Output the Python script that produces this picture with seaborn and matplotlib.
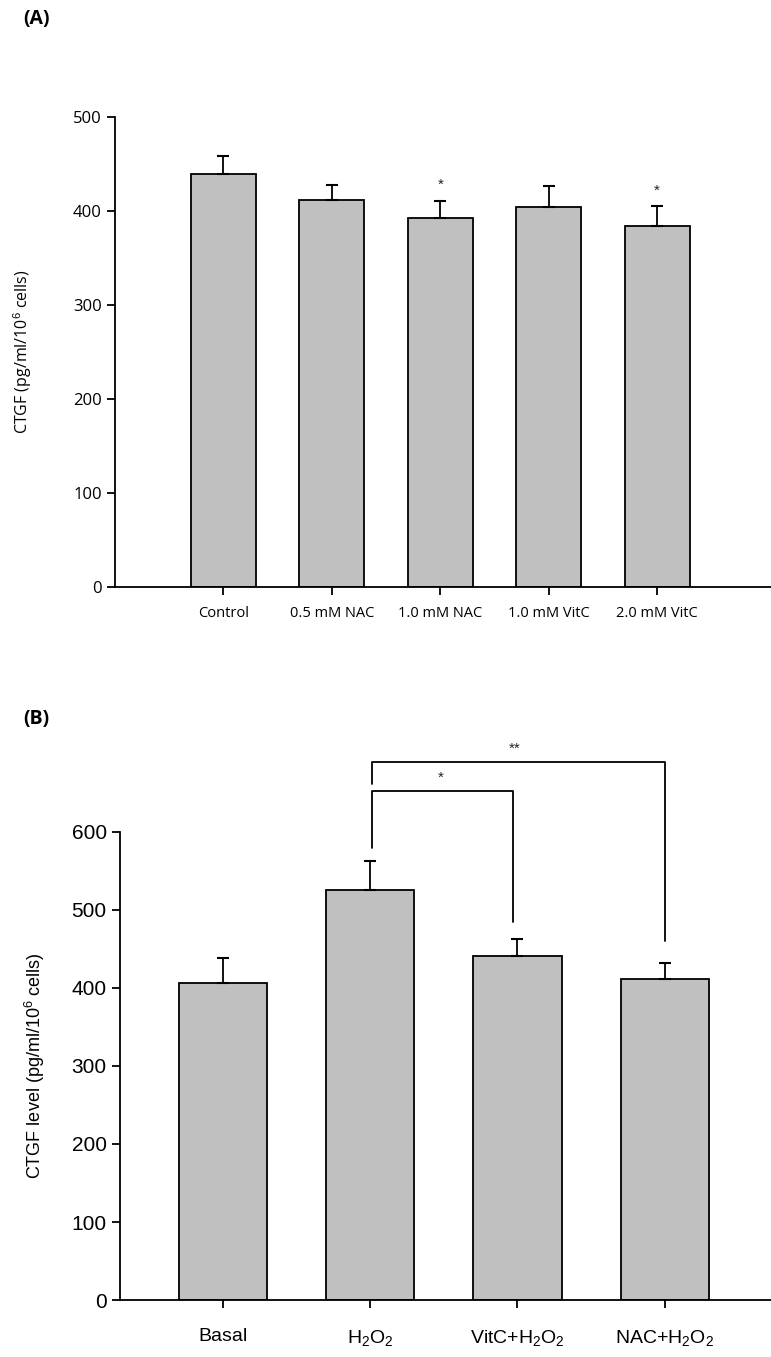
import pandas as pd
import matplotlib
matplotlib.use("Agg")
import matplotlib.pyplot as plt
import seaborn as sns

# パネルAのデータ
groups_a = ["Control", "0.5 mM NAC", "1.0 mM NAC", "1.0 mM VitC", "2.0 mM VitC"]
means_a = [439, 412, 393, 404, 384]
sem_a = [20, 16, 18, 23, 21]
stars_a = ["", "", "*", "", "*"]

# パネルBのデータ
groups_b = ["Basal", "H$_2$O$_2$", "VitC+H$_2$O$_2$", "NAC+H$_2$O$_2$"]
means_b = [407, 526, 441, 411]
sem_b = [32, 37, 22, 21]

# 有意差ブラケット: (記号, 左, 右, 横線の高さ, 左端の下, 右端の下)
brackets_b = [("*", 1, 2, 652, 580, 484), ("**", 1, 3, 690, 661, 460)]

sns.set_style("ticks")
plt.rcParams["font.family"] = ["Liberation Sans", "DejaVu Sans"]
plt.rcParams["mathtext.fontset"] = "custom"
plt.rcParams["mathtext.rm"] = "Liberation Sans"
plt.rcParams["mathtext.it"] = "Liberation Sans:italic"
plt.rcParams["text.color"] = "black"
plt.rcParams["axes.labelcolor"] = "black"
plt.rcParams["xtick.color"] = "black"
plt.rcParams["ytick.color"] = "black"
plt.rcParams["axes.edgecolor"] = "black"

BAR = "#c0c0c0"
CAL = ["Open Sans", "Lato", "DejaVu Sans"]
fig = plt.figure(figsize=(7.71, 13.57), dpi=100)


def draw_panel(ax, groups, means, sem, ymax, step, width):
    df = pd.DataFrame({"group": groups, "value": means})
    sns.barplot(data=df, x="group", y="value", color=BAR, saturation=1,
                edgecolor="black", linewidth=1.3, width=width, errorbar=None, ax=ax)
    pos = range(len(groups))
    ax.errorbar(list(pos), means, yerr=[[0] * len(sem), sem], fmt="none",
                ecolor="black", elinewidth=1.3, capsize=4.5, capthick=1.5, zorder=1)
    ax.set_ylim(0, ymax)
    ax.set_yticks(range(0, ymax + 1, step))
    sns.despine(ax=ax)
    for s in ["left", "bottom"]:
        ax.spines[s].set_linewidth(1.3)
    ax.tick_params(axis="both", direction="out", length=6, width=1.3)
    ax.set_xlabel("")


# ---- パネルA ----
ax1 = fig.add_axes([0.149, 0.5674, 0.851, 0.3464])
draw_panel(ax1, groups_a, means_a, sem_a, 500, 100, 0.6)
ax1.set_xlim(-1.0, 5.05)
for i, s in enumerate(stars_a):
    if s:
        ax1.text(i, means_a[i] + sem_a[i] + 9, s, ha="center", va="bottom", fontsize=11,
                 color="#222222")
ax1.set_ylabel("CTGF (pg/ml/10$^6$ cells)", fontsize=11.5, family=CAL, labelpad=28)
for lab in ax1.get_yticklabels():
    lab.set_fontsize(12)
    lab.set_family(CAL)
for lab in ax1.get_xticklabels():
    lab.set_fontsize(10.5)
    lab.set_family(CAL)
ax1.tick_params(axis="x", pad=8)
fig.text(0.030, 0.986, "(A)", fontsize=14, fontweight="bold", family=CAL, va="center")

# ---- パネルB ----
ax2 = fig.add_axes([0.1556, 0.0420, 0.844, 0.3449])
draw_panel(ax2, groups_b, means_b, sem_b, 600, 100, 0.6)
ax2.set_xlim(-0.70, 3.72)
for sym, left, right, top, lbot, rbot in brackets_b:
    rx = right - 0.03 * (right == 2)
    ax2.plot([left + 0.015, left + 0.015, rx, rx], [lbot, top, top, rbot],
             color="black", lw=1.3, clip_on=False)
    ax2.text((left + right) / 2 - 0.02, top + 8, sym, ha="center", va="bottom", fontsize=11,
             color="#222222", clip_on=False)
ax2.set_ylabel("CTGF level (pg/ml/10$^6$ cells)", fontsize=13, labelpad=18)
for lab in ax2.get_yticklabels():
    lab.set_fontsize(15)
for lab in ax2.get_xticklabels():
    lab.set_fontsize(14)
ax2.tick_params(axis="x", pad=14)
fig.text(0.030, 0.470, "(B)", fontsize=14, fontweight="bold", family=CAL, va="center")

fig.savefig("out.png", dpi=100)
